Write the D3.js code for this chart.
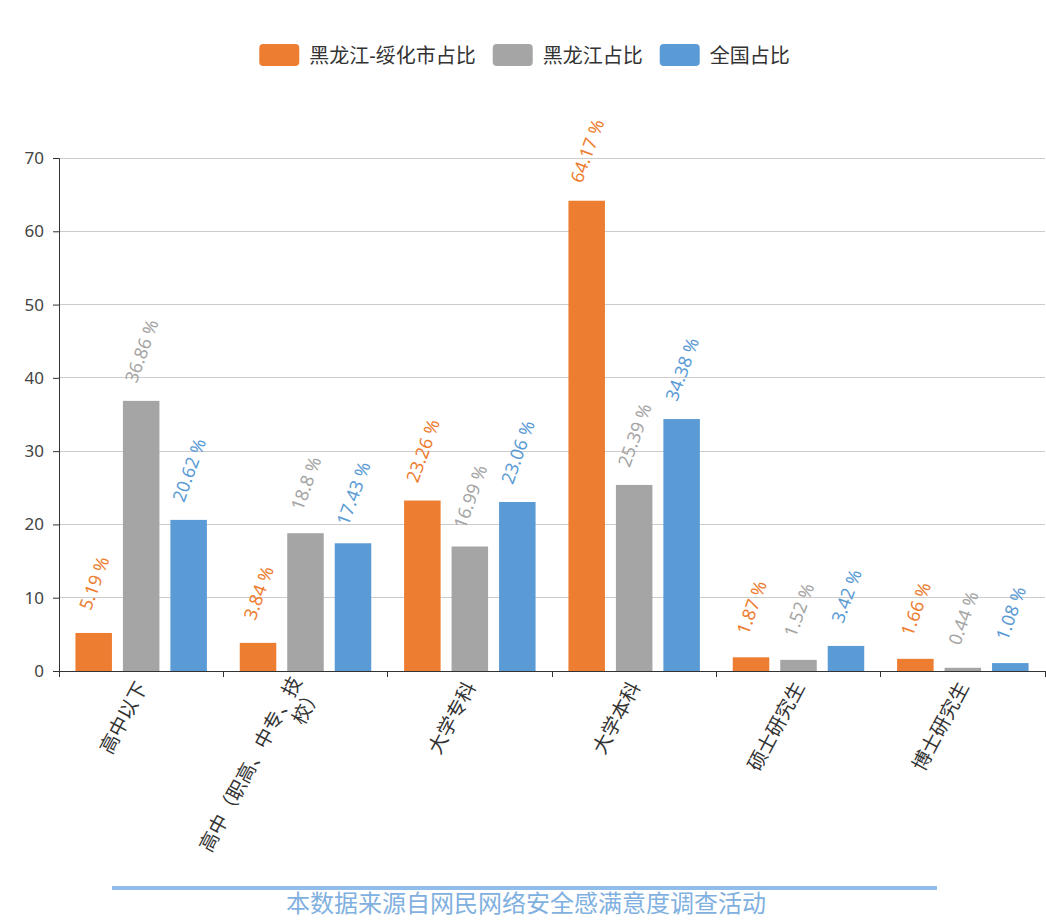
<!DOCTYPE html>
<html>
<head>
<meta charset="utf-8">
<script src="https://cdn.jsdelivr.net/npm/d3@7/dist/d3.min.js"></script>
<style>
  html, body { margin: 0; padding: 0; background: #fff; }
  svg { display: block; font-family: "Noto Sans", "Noto Sans CJK SC", sans-serif; }
</style>
</head>
<body>
<svg id="chart" width="1046" height="921"></svg>
<script>
const categories = ["高中以下", "高中（职高、中专、技\n校）", "大学专科", "大学本科", "硕士研究生", "博士研究生"];
const seriesNames = ["黑龙江-绥化市占比", "黑龙江占比", "全国占比"];
const suihuaValues = [5.19, 3.84, 23.26, 64.17, 1.87, 1.66];
const heilongjiangValues = [36.86, 18.8, 16.99, 25.39, 1.52, 0.44];
const nationalValues = [20.62, 17.43, 23.06, 34.38, 3.42, 1.08];
const seriesColors = ["#ed7d31", "#a5a5a5", "#5b9bd5"];
const yTicks = [0, 10, 20, 30, 40, 50, 60, 70];
const footerText = "本数据来源自网民网络安全感满意度调查活动";

const series = [suihuaValues, heilongjiangValues, nationalValues];

const svg = d3.select("#chart");
const margin = { left: 59, right: 1045, top: 158, bottom: 671 };

const x = d3.scaleBand().domain(categories).range([margin.left, margin.right]).paddingInner(0).paddingOuter(0);
const y = d3.scaleLinear().domain([0, 70]).range([margin.bottom, margin.top]);

const catW = x.bandwidth();
const innerW = catW * 0.8;
const barW = innerW / 3.6;
const barGap = barW * 0.3;

// grid lines
svg.append("g").selectAll("line").data(yTicks.filter(d => d > 0)).join("line")
  .attr("x1", margin.left).attr("x2", margin.right)
  .attr("y1", d => y(d)).attr("y2", d => y(d))
  .attr("stroke", "#cccccc").attr("stroke-width", 1).attr("shape-rendering", "crispEdges");

// y axis
const yAxis = svg.append("g").attr("transform", `translate(${margin.left},0)`)
  .call(d3.axisLeft(y).tickValues(yTicks).tickSize(6).tickPadding(9).tickFormat(d3.format("d")));
yAxis.select(".domain").attr("stroke", "#333");
yAxis.selectAll(".tick line").attr("stroke", "#333");
yAxis.selectAll(".tick text").attr("fill", "#444").style("font-size", "17px").style("font-family", "'Noto Sans', sans-serif");

// bars
series.forEach((vals, si) => {
  const g = svg.append("g");
  g.selectAll("rect").data(vals).join("rect")
    .attr("x", (d, i) => x(categories[i]) + catW * 0.1 + si * (barW + barGap))
    .attr("y", d => y(d))
    .attr("width", barW)
    .attr("height", d => y(0) - y(d))
    .attr("fill", seriesColors[si]);
  g.selectAll("text").data(vals).join("text")
    .attr("transform", (d, i) => {
      const cx = x(categories[i]) + catW * 0.1 + si * (barW + barGap) + barW / 2;
      return `translate(${cx},${y(d) - 50}) rotate(-70)`;
    })
    .attr("text-anchor", "middle")
    .attr("dominant-baseline", "central")
    .attr("fill", seriesColors[si])
    .style("font-size", "18px")
    .text(d => d + " %");
});

// x axis
const xAxisG = svg.append("g");
xAxisG.append("line").attr("x1", margin.left).attr("x2", margin.right)
  .attr("y1", y(0)).attr("y2", y(0)).attr("stroke", "#333").attr("stroke-width", 1).attr("shape-rendering", "crispEdges");
const boundaries = categories.map(c => x(c)).concat([margin.right]);
xAxisG.selectAll("line.tk").data(boundaries).join("line").attr("class", "tk")
  .attr("x1", d => d).attr("x2", d => d).attr("y1", y(0)).attr("y2", y(0) + 6)
  .attr("stroke", "#333").attr("shape-rendering", "crispEdges");
categories.forEach(c => {
  const lines = c.split("\n");
  const cx = x(c) + catW / 2;
  const t = xAxisG.append("text")
    .attr("transform", `translate(${cx},${y(0) + 12}) rotate(-62)`)
    .attr("text-anchor", "end")
    .attr("fill", "#333")
    .style("font-size", "19.5px");
  lines.forEach((ln, i) => {
    t.append("tspan").attr("x", 0)
      .attr("y", (i - (lines.length - 1) / 2) * 22)
      .attr("dominant-baseline", "central")
      .text(ln);
  });
});

// legend
const legend = svg.append("g");
let lx = 0;
seriesNames.forEach((n, i) => {
  const g = legend.append("g").attr("transform", `translate(${lx},0)`);
  g.append("rect").attr("x", 0).attr("y", 44).attr("width", 40).attr("height", 22).attr("rx", 4)
    .attr("fill", seriesColors[i]);
  const t = g.append("text").attr("x", 50).attr("y", 55).attr("dominant-baseline", "central")
    .attr("fill", "#333").style("font-size", "20px").text(n);
  lx += 50 + t.node().getComputedTextLength() + 17;
});
const legendW = lx - 17;
legend.attr("transform", `translate(${(1049 - legendW) / 2},0)`);

// footer
svg.append("rect").attr("x", 112).attr("y", 886).attr("width", 825).attr("height", 4).attr("fill", "#90bde9");
svg.append("text").attr("x", 526).attr("y", 912).attr("text-anchor", "middle")
  .attr("fill", "#7fb0e0").style("font-size", "24px").text(footerText);
</script>
</body>
</html>
